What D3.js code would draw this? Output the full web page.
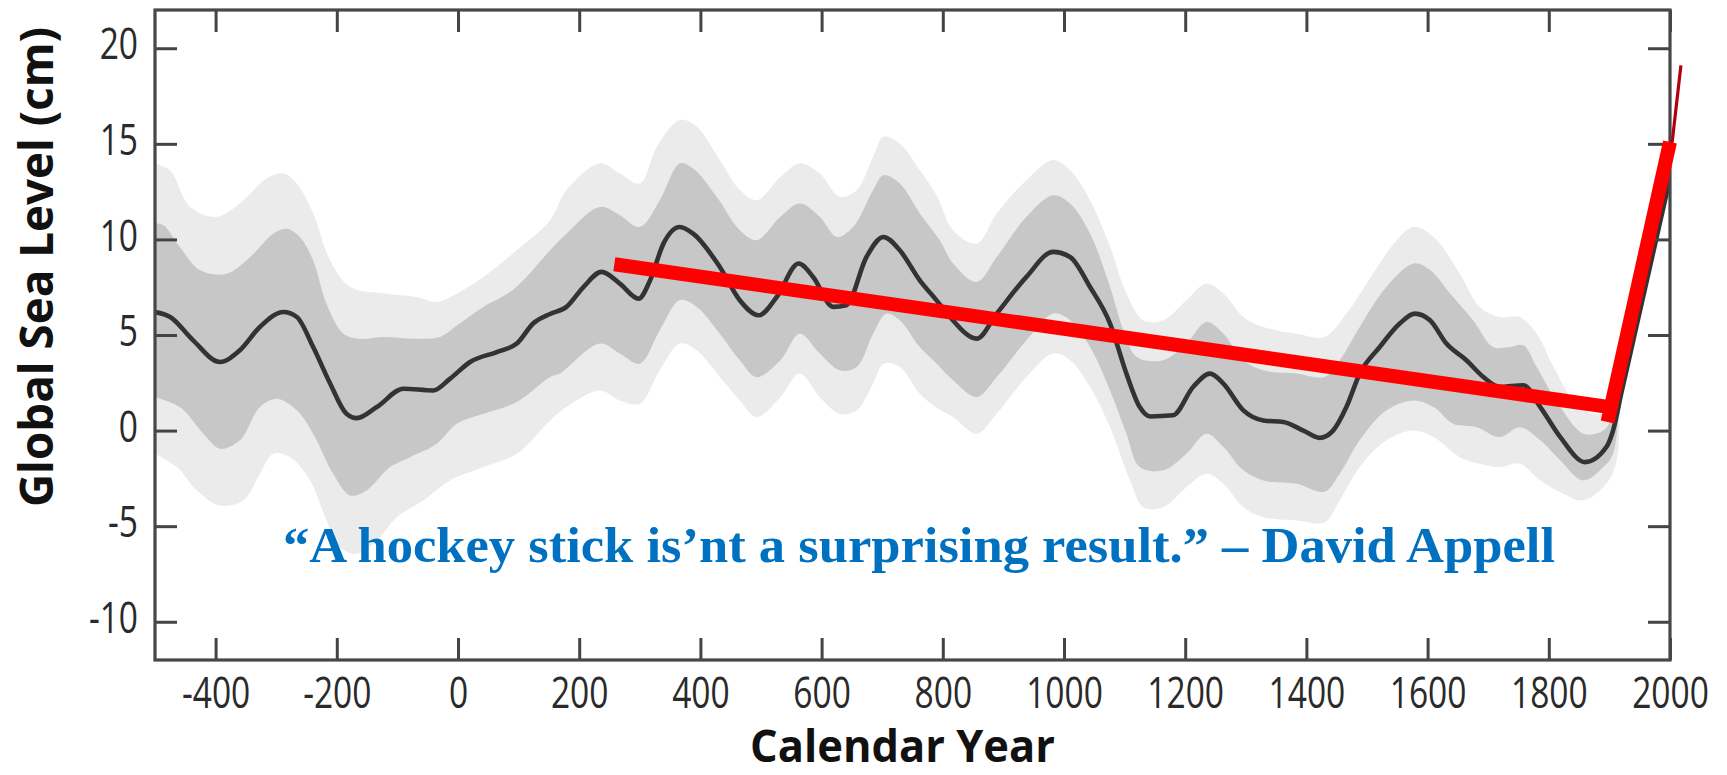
<!DOCTYPE html>
<html>
<head>
<meta charset="utf-8">
<script src="https://cdn.jsdelivr.net/npm/d3@7"></script>
<style>
  html, body { margin: 0; padding: 0; background: #ffffff; }
  svg { display: block; }
</style>
</head>
<body>
<svg id="chart" width="1727" height="775"></svg>
<script>
// ---------------- DATA ----------------
const xTickValues = [-400, -200, 0, 200, 400, 600, 800, 1000, 1200, 1400, 1600, 1800, 2000];
const yTickValues = [-10, -5, 0, 5, 10, 15, 20];

const xTitle = "Calendar Year";
const yTitle = "Global Sea Level (cm)";
const quoteText = "\u201CA hockey stick is\u2019nt a surprising result.\u201D \u2013 David Appell";

// mean reconstruction [year, cm]
const meanLine = [
  [-500,6.2],[-475,5.94],[-437,4.72],[-393,3.59],[-360,4.2],[-327,5.42],[-288,6.2],[-266,5.94],
  [-239,4.37],[-211,2.46],[-184,0.88],[-167,0.65],[-134,1.23],[-90,2.19],[-41,2.1],[-13,2.72],
  [20,3.59],[64,4.11],[97,4.55],[124,5.6],[152,6.1],[179,6.47],[207,7.51],[237,8.3],[267,7.69],
  [298,6.9],[317,7.86],[339,9.78],[366,10.65],[388,10.3],[432,8.56],[465,6.82],[496,6.03],
  [526,6.99],[562,8.74],[586,8.04],[619,6.47],[641,6.56],[674,9.08],[702,10.13],[729,9.43],
  [762,7.86],[790,6.8],[812,5.94],[856,4.81],[889,6.12],[938,8.04],[982,9.35],[1010,9.08],
  [1043,7.51],[1076,5.6],[1103,2.98],[1125,1.23],[1142,0.74],[1180,0.8],[1213,2.28],[1241,2.98],
  [1263,2.46],[1296,1.06],[1329,0.53],[1362,0.45],[1395,0.0],[1422,-0.38],[1444,0.0],[1466,1.23],
  [1488,2.98],[1521,4.37],[1554,5.6],[1579,6.12],[1604,5.77],[1631,4.55],[1664,3.68],[1692,2.8],
  [1719,2.28],[1758,2.37],[1786,1.23],[1819,-0.34],[1860,-1.65],[1895,-0.86],[1906,0.0],
  [1920,2.0],[1940,4.8],[1960,7.6],[1980,10.4],[2000,13.2]
];

// 1-sigma band
const innerUpper = [
  [-500,10.83],[-486,10.74],[-459,9.6],[-426,8.4],[-382,8.2],[-343,9.08],[-305,10.3],[-283,10.56],
  [-261,10.13],[-239,8.9],[-217,6.64],[-189,5.07],[-162,4.8],[-123,4.9],[-68,4.8],[-30,4.9],
  [-2,5.5],[42,6.47],[86,7.25],[113,8.04],[152,9.43],[179,10.3],[234,11.7],[267,11.27],[300,10.65],
  [333,12.05],[366,13.97],[388,13.71],[427,12.23],[465,10.48],[493,9.96],[532,11.18],[564,11.88],
  [597,11.18],[625,10.13],[652,10.65],[685,12.58],[702,13.36],[729,12.92],[762,11.36],[795,9.96],
  [817,8.74],[856,7.78],[889,9.08],[938,11.18],[982,12.31],[1010,11.88],[1043,10.3],[1076,7.51],
  [1098,5.25],[1120,3.85],[1164,3.68],[1202,4.55],[1235,5.68],[1263,5.07],[1296,3.68],[1329,3.15],
  [1384,2.98],[1430,2.8],[1455,3.68],[1488,5.42],[1532,7.51],[1577,8.74],[1604,8.4],[1637,7.17],
  [1675,5.77],[1708,4.37],[1736,4.37],[1758,4.46],[1780,3.33],[1819,1.23],[1857,-0.16],[1890,0.0],
  [1906,0.9],[1920,4.0],[1940,6.8],[1960,9.6],[1980,12.5],[2000,15.3]
];
const innerLower = [
  [-500,1.75],[-459,1.23],[-420,-0.17],[-393,-0.95],[-360,-0.51],[-327,1.23],[-299,1.67],[-266,1.06],
  [-239,-0.16],[-206,-2.26],[-178,-3.39],[-151,-3.13],[-112,-1.91],[-79,-1.39],[-35,-0.69],[-2,0.36],
  [42,0.88],[97,1.49],[152,2.8],[168,2.98],[234,4.55],[267,4.03],[300,3.5],[333,5.25],[366,6.82],
  [394,6.47],[432,5.07],[465,3.68],[493,2.8],[532,3.68],[564,5.07],[597,4.03],[630,3.15],[658,3.33],
  [685,5.07],[707,6.12],[729,5.77],[762,4.37],[790,3.5],[817,2.63],[856,1.75],[889,2.8],[938,4.72],
  [982,6.12],[1010,5.77],[1043,4.37],[1076,2.1],[1103,-0.16],[1125,-1.91],[1164,-2.08],[1202,-1.21],
  [1235,-0.16],[1263,-0.86],[1296,-2.08],[1329,-2.61],[1384,-2.78],[1430,-3.2],[1455,-2.26],
  [1488,-0.51],[1532,1.06],[1577,1.58],[1610,1.23],[1642,0.36],[1681,0.18],[1719,-0.34],[1752,0.18],
  [1786,-0.51],[1819,-1.56],[1857,-2.61],[1890,-1.91],[1906,-1.21],[1920,2.2],[1940,5.0],[1960,7.8],
  [1980,10.6],[2000,13.4]
];

// 2-sigma band
const outerUpper = [
  [-500,13.97],[-475,13.6],[-442,11.7],[-398,11.18],[-360,11.88],[-316,13.19],[-288,13.45],[-266,12.92],
  [-239,11.36],[-211,8.9],[-178,7.51],[-123,7.17],[-68,6.99],[-35,6.73],[-2,7.17],[42,8.04],[97,9.43],
  [152,11.0],[179,12.58],[234,13.97],[267,13.45],[300,12.92],[328,14.84],[366,16.24],[394,15.89],
  [432,14.15],[465,12.58],[493,12.05],[532,13.27],[564,13.97],[597,13.45],[630,12.23],[658,12.58],
  [685,14.32],[702,15.37],[729,15.02],[762,13.62],[790,12.3],[817,10.48],[856,9.78],[889,11.36],
  [938,13.1],[982,14.15],[1010,13.62],[1043,12.05],[1076,9.61],[1103,7.17],[1131,5.77],[1164,5.77],
  [1202,6.82],[1235,7.69],[1263,7.17],[1296,5.94],[1329,5.42],[1384,5.07],[1430,4.9],[1466,6.12],
  [1510,8.21],[1549,9.96],[1577,10.65],[1610,10.13],[1653,8.21],[1686,6.47],[1719,5.94],[1752,5.94],
  [1780,5.07],[1808,3.33],[1841,1.58],[1874,0.88],[1901,1.06],[1920,4.2],[1940,7.0],[1960,9.9],
  [1980,12.8],[2000,15.6]
];
const outerLower = [
  [-500,-1.21],[-464,-1.91],[-431,-3.13],[-393,-3.92],[-354,-3.65],[-327,-2.26],[-305,-1.21],
  [-277,-1.39],[-244,-2.61],[-217,-4.7],[-195,-6.1],[-167,-6.45],[-134,-5.75],[-101,-4.53],
  [-57,-3.65],[-13,-2.61],[42,-1.91],[97,-1.21],[152,0.53],[179,1.23],[234,2.1],[267,1.58],
  [300,1.41],[333,3.15],[366,4.55],[394,4.2],[432,2.8],[465,1.58],[493,0.71],[532,1.75],[564,2.98],
  [597,1.75],[630,0.88],[658,1.06],[685,2.46],[702,3.5],[729,3.33],[762,1.93],[790,1.2],[817,0.71],
  [856,-0.16],[889,0.88],[938,2.8],[982,4.03],[1010,3.68],[1043,2.28],[1076,0.18],[1109,-2.61],
  [1131,-4.01],[1164,-4.01],[1202,-2.96],[1235,-2.26],[1263,-2.78],[1296,-4.01],[1329,-4.53],
  [1384,-4.7],[1430,-4.8],[1455,-3.65],[1488,-1.91],[1532,-0.51],[1577,0.0],[1610,-0.34],
  [1653,-1.39],[1686,-1.73],[1719,-1.91],[1752,-1.73],[1786,-2.61],[1824,-3.3],[1857,-3.65],
  [1895,-2.78],[1912,-1.56],[1920,2.1],[1940,4.9],[1960,7.7],[1980,10.5],[2000,13.3]
];

// instrumental (tide gauge) tail
const tideGauge = [[1990,13.0],[2004,15.2],[2018,19.1]];

// the drawn "hockey stick"
const stickShaft = [[258,8.7],[1895,1.25]];
const stickBlade = [[1897,0.45],[2000,15.1]];

// ---------------- CHART ----------------
const svg = d3.select("#chart");
const W = 1727, H = 775;
const m = {left: 155, right: 1670, top: 10, bottom: 660};

const x = d3.scaleLinear().domain([-500, 2000]).range([m.left, m.right]);
const y = d3.scaleLinear().domain([-12, 22]).range([m.bottom, m.top]);

svg.append("rect").attr("width", W).attr("height", H).attr("fill", "#ffffff");

const defs = svg.append("defs");
defs.append("clipPath").attr("id", "plotClip")
  .append("rect")
  .attr("x", m.left).attr("y", m.top)
  .attr("width", m.right - m.left).attr("height", m.bottom - m.top);

const plot = svg.append("g").attr("clip-path", "url(#plotClip)");

const bandLine = d3.line().x(d => x(d[0])).y(d => y(d[1])).curve(d3.curveCatmullRom.alpha(0.5));
function bandPath(upper, lower) {
  return bandLine(upper.concat(lower.slice().reverse())) + "Z";
}

plot.append("path").attr("d", bandPath(outerUpper, outerLower)).attr("fill", "#ebebeb");
plot.append("path").attr("d", bandPath(innerUpper, innerLower)).attr("fill", "#c7c7c7");

const meanGen = d3.line().x(d => x(d[0])).y(d => y(d[1])).curve(d3.curveMonotoneX);
plot.append("path").attr("d", meanGen(meanLine))
  .attr("fill", "none").attr("stroke", "#333333").attr("stroke-width", 4.6)
  .attr("stroke-linejoin", "round");

// axes
const tickColor = "#444444";
const labelFont = "'Open Sans', 'Noto Sans', 'DejaVu Sans', sans-serif";
const sx = 0.78;

const xAxisB = svg.append("g").attr("transform", `translate(0,${m.bottom})`)
  .call(d3.axisBottom(x).tickValues(xTickValues).tickSizeInner(-22).tickSizeOuter(0)
    .tickPadding(17).tickFormat(d => String(d)));
xAxisB.select(".domain").remove();
xAxisB.selectAll("line").attr("stroke", tickColor).attr("stroke-width", 3);
xAxisB.selectAll("text")
  .attr("font-family", labelFont).attr("font-size", 43).attr("fill", "#2a2a2a")
  .attr("transform", `scale(${sx},1)`);

const yAxisL = svg.append("g").attr("transform", `translate(${m.left},0)`)
  .call(d3.axisLeft(y).tickValues(yTickValues).tickSizeInner(-22).tickSizeOuter(0)
    .tickPadding(17).tickFormat(d => String(d)));
yAxisL.select(".domain").remove();
yAxisL.selectAll("line").attr("stroke", tickColor).attr("stroke-width", 3);
yAxisL.selectAll("text")
  .attr("font-family", labelFont).attr("font-size", 43).attr("fill", "#2a2a2a")
  .attr("x", -17 / sx).attr("dy", "0.25em")
  .attr("transform", `scale(${sx},1)`);

const xAxisT = svg.append("g").attr("transform", `translate(0,${m.top})`)
  .call(d3.axisTop(x).tickValues(xTickValues).tickSizeInner(-22).tickSizeOuter(0).tickFormat(""));
xAxisT.select(".domain").remove();
xAxisT.selectAll("line").attr("stroke", tickColor).attr("stroke-width", 3);

const yAxisR = svg.append("g").attr("transform", `translate(${m.right},0)`)
  .call(d3.axisRight(y).tickValues(yTickValues).tickSizeInner(-22).tickSizeOuter(0).tickFormat(""));
yAxisR.select(".domain").remove();
yAxisR.selectAll("line").attr("stroke", tickColor).attr("stroke-width", 3);

// frame
svg.append("rect")
  .attr("x", m.left).attr("y", m.top)
  .attr("width", m.right - m.left).attr("height", m.bottom - m.top)
  .attr("fill", "none").attr("stroke", "#474747").attr("stroke-width", 3.2);

// axis titles
svg.append("text")
  .attr("x", 750).attr("y", 762)
  .attr("font-family", labelFont).attr("font-weight", 700).attr("font-size", 44)
  .attr("fill", "#111111")
  .attr("textLength", 305).attr("lengthAdjust", "spacingAndGlyphs")
  .text(xTitle);

svg.append("text")
  .attr("transform", "translate(53,267) rotate(-90)")
  .attr("x", -240).attr("y", 0)
  .attr("font-family", labelFont).attr("font-weight", 700).attr("font-size", 46)
  .attr("fill", "#111111")
  .attr("textLength", 480).attr("lengthAdjust", "spacingAndGlyphs")
  .text(yTitle);

// instrumental tail (dark red, thin)
const lineGen = d3.line().x(d => x(d[0])).y(d => y(d[1]));
svg.append("path").attr("d", lineGen(tideGauge))
  .attr("fill", "none").attr("stroke", "#b3000f").attr("stroke-width", 3.2);

// hockey stick overlay
[stickShaft, stickBlade].forEach(seg => {
  svg.append("path").attr("d", lineGen(seg))
    .attr("fill", "none").attr("stroke", "#ff0000").attr("stroke-width", 14)
    .attr("stroke-linecap", "butt");
});

// quote
svg.append("text")
  .attr("x", 283).attr("y", 562)
  .attr("font-family", "'Liberation Serif', 'DejaVu Serif', serif")
  .attr("font-weight", 700).attr("font-size", 50)
  .attr("fill", "#0070c0")
  .attr("textLength", 1272).attr("lengthAdjust", "spacingAndGlyphs")
  .text(quoteText);
</script>
</body>
</html>
